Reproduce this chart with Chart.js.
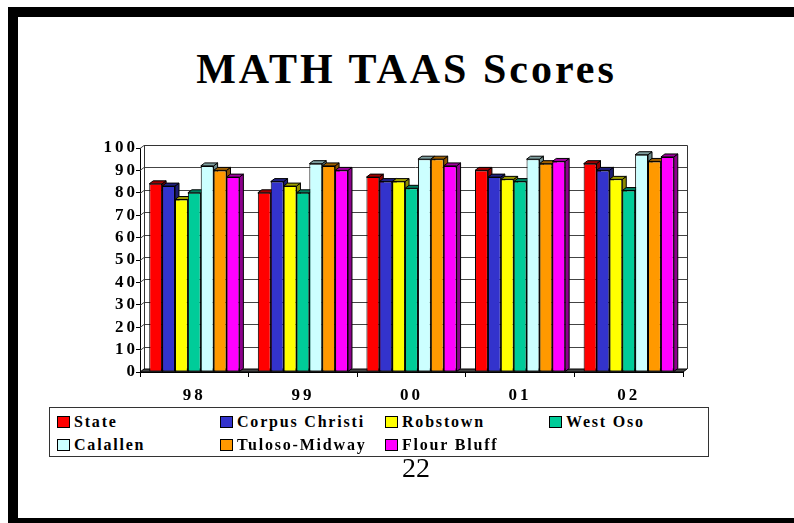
<!DOCTYPE html>
<html>
<head>
<meta charset="utf-8">
<script src="https://cdn.jsdelivr.net/npm/chart.js@4/dist/chart.umd.min.js"></script>
<style>
  html, body { margin: 0; padding: 0; background: #fff; }
  #page { position: relative; width: 794px; height: 523px; overflow: hidden; background: #fff; }
  .frame { position: absolute; background: #000; }
  #title {
    position: absolute; left: 0; width: 813px; top: 48px; text-align: center;
    font: bold 42px "Liberation Serif", "Times New Roman", serif; line-height: 42px;
    letter-spacing: 3px; color: #000;
  }
  #chart { position: absolute; left: 0; top: 0; }
  #legend {
    position: absolute; left: 49px; top: 407px; width: 658px; height: 48px;
    border: 1px solid #333; background: #fff;
  }
  .item {
    position: absolute; white-space: nowrap; height: 18px; line-height: 18px;
    font: bold 16px "Liberation Serif", "Times New Roman", serif; letter-spacing: 1.8px; color: #000;
  }
  .swatch {
    display: inline-block; width: 11px; height: 10px; border: 1px solid #000;
    margin-right: 4px; vertical-align: -1px;
  }
  #pagenum {
    position: absolute; left: 0; width: 832px; top: 454px; text-align: center;
    font: 28px "Liberation Serif", "Times New Roman", serif; line-height: 28px; color: #000;
  }
</style>
</head>
<body>
<div id="page">
  <div class="frame" style="left:8px;top:7px;width:786px;height:10px"></div>
  <div class="frame" style="left:8px;top:7px;width:10px;height:516px"></div>
  <div class="frame" style="left:8px;top:518px;width:786px;height:5px"></div>
  <div id="title">MATH TAAS Scores</div>
  <canvas id="chart" width="794" height="523"></canvas>
  <div id="legend"></div>
  <div id="pagenum">22</div>
</div>
<script>
const years = ['98', '99', '00', '01', '02'];
const schools = ['State', 'Corpus Christi', 'Robstown', 'West Oso', 'Calallen', 'Tuloso-Midway', 'Flour Bluff'];
const colors = ['#FF0000', '#3333CC', '#FFFF00', '#00CC99', '#CCFFFF', '#FF9900', '#FF00FF'];

const state = [84, 80, 87, 90, 93];
const corpusChristi = [83, 85, 85, 87, 90];
const robstown = [77, 83, 85, 86, 86];
const westOso = [80, 80, 82, 85, 81];
const calallen = [92, 93, 95, 95, 97];
const tulosoMidway = [90, 92, 95, 93, 94];
const flourBluff = [87, 90, 92, 94, 96];
const series = [state, corpusChristi, robstown, westOso, calallen, tulosoMidway, flourBluff];

const yTicks = { min: 0, max: 100, step: 10 };

const DX = 4, DY = 3;

function shade(hex, f) {
    const n = parseInt(hex.slice(1), 16);
    const r = Math.round(((n >> 16) & 255) * f);
    const g = Math.round(((n >> 8) & 255) * f);
    const b = Math.round((n & 255) * f);
    return `rgb(${r},${g},${b})`;
}

function poly(ctx, pts, fill, stroke) {
    ctx.beginPath();
    ctx.moveTo(pts[0][0], pts[0][1]);
    for (let i = 1; i < pts.length; i++) ctx.lineTo(pts[i][0], pts[i][1]);
    ctx.closePath();
    if (fill) { ctx.fillStyle = fill; ctx.fill(); }
    if (stroke) { ctx.strokeStyle = stroke; ctx.lineWidth = 1; ctx.stroke(); }
}

// back wall, floor and the depth faces of the bars
const threeD = {
    id: 'threeD',
    beforeDraw(chart) {
        chart.ctx.letterSpacing = '3px';
    },
    beforeDatasetsDraw(chart) {
        const ctx = chart.ctx;
        const { left, right, bottom } = chart.chartArea;
        const yScale = chart.scales.y;
        ctx.save();
        ctx.letterSpacing = '0px';
        const topY = yScale.getPixelForValue(yTicks.max);

        // grid lines on back wall + side wall
        yScale.ticks.forEach(t => {
            if (t.value === 0) return;
            const py = Math.round(yScale.getPixelForValue(t.value)) + 0.5;
            ctx.strokeStyle = '#444';
            ctx.lineWidth = 1;
            ctx.beginPath();
            ctx.moveTo(left, py);
            ctx.lineTo(left + DX, py - DY);
            ctx.lineTo(right + DX, py - DY);
            ctx.stroke();
        });
        // back wall outline
        ctx.strokeStyle = '#333';
        ctx.beginPath();
        ctx.moveTo(left + DX + 0.5, bottom - DY);
        ctx.lineTo(left + DX + 0.5, topY - DY + 0.5);
        ctx.lineTo(right + DX + 0.5, topY - DY + 0.5);
        ctx.lineTo(right + DX + 0.5, bottom - DY);
        ctx.stroke();
        // floor
        poly(ctx, [[left, bottom], [right, bottom], [right + DX, bottom - DY], [left + DX, bottom - DY]], '#444', '#000');

        // bar depth faces, left to right inside each category
        const metas = series.map((_, i) => chart.getDatasetMeta(i));
        for (let c = 0; c < years.length; c++) {
            metas.forEach((meta, i) => {
                const el = meta.data[c];
                const { x, y, base, width } = el.getProps(['x', 'y', 'base', 'width'], true);
                const l = x - width / 2, r = x + width / 2;
                poly(ctx, [[r, y], [r + DX, y - DY], [r + DX, base - DY], [r, base]], shade(colors[i], 0.55), '#000');
                poly(ctx, [[l, y], [l + DX, y - DY], [r + DX, y - DY], [r, y]], shade(colors[i], 0.62), '#000');
            });
        }
        ctx.restore();
    }
};

const tickFont = { family: 'Liberation Serif', weight: 'bold', size: 17, lineHeight: 1 };

new Chart(document.getElementById('chart'), {
    type: 'bar',
    data: {
        labels: years,
        datasets: schools.map((name, i) => ({
            label: name,
            data: series[i],
            backgroundColor: colors[i],
            borderColor: '#000',
            borderWidth: 1,
            borderSkipped: false,
            barPercentage: 1,
            categoryPercentage: 0.83,
        })),
    },
    options: {
        responsive: false,
        animation: false,
        layout: { padding: { left: 90, right: 111, top: 148, bottom: 121 } },
        plugins: {
            legend: { display: false },
            tooltip: { enabled: false },
            title: { display: false },
        },
        scales: {
            x: {
                afterFit: s => { s.height = 30; },
                ticks: { color: '#000', font: tickFont, padding: 10 },
                grid: { offset: true, drawOnChartArea: false, drawTicks: true, tickLength: 5, color: '#000' },
                border: { color: '#000', width: 1 },
            },
            y: {
                min: yTicks.min,
                max: yTicks.max,
                afterFit: s => { s.width = 50; },
                ticks: { stepSize: yTicks.step, autoSkip: false, color: '#000', font: tickFont, padding: -2 },
                grid: { drawOnChartArea: false, drawTicks: true, tickLength: 4, color: '#000' },
                border: { color: '#000', width: 1 },
            },
        },
    },
    plugins: [threeD],
});

const legend = document.getElementById('legend');
const colLeft = [7, 170, 335, 499];
const rowTop = [5, 28];
schools.forEach((name, i) => {
    const item = document.createElement('div');
    item.className = 'item';
    item.style.left = colLeft[i % 4] + 'px';
    item.style.top = rowTop[Math.floor(i / 4)] + 'px';
    item.innerHTML = `<span class="swatch" style="background:${colors[i]}"></span>${name}`;
    legend.appendChild(item);
});
</script>
</body>
</html>
